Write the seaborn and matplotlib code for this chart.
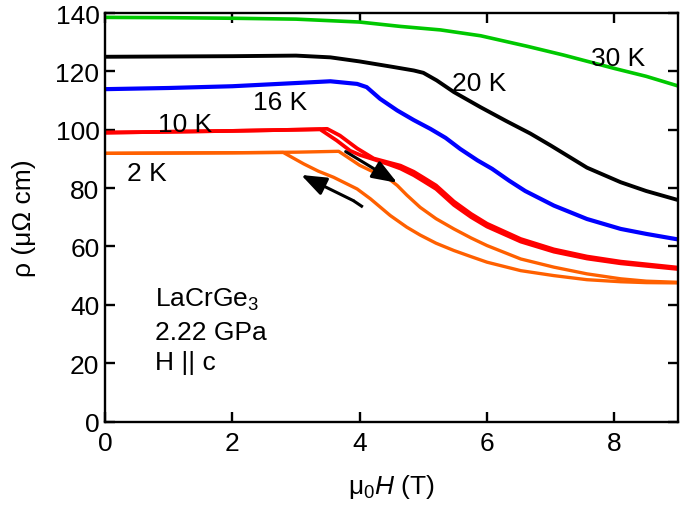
import matplotlib
matplotlib.use("Agg")
import matplotlib.pyplot as plt
import seaborn as sns
import pandas as pd

# ---------------- data ----------------
green_x = [0, 1, 2, 3, 4, 4.64, 5.27, 5.9, 6.63, 7.2, 8.0, 8.5, 9.0]
green_y = [138.5, 138.4, 138.2, 137.9, 136.9, 135.4, 134.2, 132.2, 128.6, 125.6, 121.0, 118.3, 115.0]

black_x = [0, 1, 2, 3, 3.54, 4.0, 4.5, 4.85, 5.0, 5.21, 5.48, 5.9, 6.3, 6.68, 7.0, 7.57, 8.1, 8.5, 9.0]
black_y = [125.0, 125.1, 125.2, 125.4, 124.8, 123.4, 121.6, 120.3, 119.5, 116.9, 112.9, 107.7, 103.0, 98.7, 94.6, 87.0, 82.0, 79.0, 75.9]

blue_x = [0, 1, 2, 3, 3.54, 3.96, 4.11, 4.32, 4.59, 4.85, 5.11, 5.35, 5.58, 5.85, 6.08, 6.35, 6.6, 7.05, 7.57, 8.1, 8.5, 9.0]
blue_y = [113.9, 114.3, 114.9, 116.0, 116.6, 115.7, 114.6, 110.6, 106.6, 103.3, 100.3, 97.2, 93.4, 89.5, 86.6, 82.5, 79.0, 74.0, 69.4, 66.0, 64.3, 62.4]

red_up_x = [0, 1, 2, 3, 3.49, 3.69, 3.96, 4.22, 4.45, 4.64, 4.85, 5.0, 5.2, 5.48, 5.75, 6.0, 6.53, 7.05, 7.57, 8.1, 9.0]
red_up_y = [99.0, 99.3, 99.6, 100.0, 100.3, 98.0, 93.6, 90.15, 88.8, 87.7, 85.6, 83.6, 80.9, 75.4, 71.15, 67.8, 62.55, 59.0, 56.55, 54.8, 52.75]
red_dn_x = [0, 1, 2, 3, 3.38, 3.64, 3.85, 4.01, 4.22, 4.45, 4.64, 4.85, 5.0, 5.2, 5.48, 5.75, 6.0, 6.53, 7.05, 7.57, 8.1, 9.0]
red_dn_y = [99.0, 99.3, 99.6, 100.0, 100.1, 96.3, 92.8, 91.3, 89.85, 88.2, 86.7, 84.4, 82.4, 79.7, 74.2, 70.05, 66.8, 61.65, 58.2, 55.85, 54.2, 52.25]

orange_up_x = [0, 1, 2, 3, 3.67, 3.85, 4.0, 4.17, 4.35, 4.48, 4.59, 4.74, 4.95, 5.2, 5.48, 5.75, 6.0, 6.53, 7.05, 7.57, 8.1, 8.5, 9.0]
orange_up_y = [91.9, 92.0, 92.1, 92.3, 92.6, 90.0, 87.8, 86.0, 84.3, 82.8, 80.9, 77.6, 73.4, 69.5, 66.0, 62.9, 60.3, 55.7, 52.9, 50.6, 48.9, 48.1, 47.7]
orange_dn_x = [0, 1, 2, 2.8, 3.12, 3.35, 3.59, 3.96, 4.17, 4.48, 4.74, 4.95, 5.2, 5.48, 5.75, 6.0, 6.53, 7.05, 7.57, 8.1, 8.5, 9.0]
orange_dn_y = [91.9, 92.0, 92.1, 92.2, 88.3, 85.8, 83.7, 79.7, 76.3, 70.6, 66.6, 63.9, 61.1, 58.6, 56.5, 54.6, 51.7, 50.0, 48.6, 47.9, 47.6, 47.5]

curve_labels = ["2 K", "10 K", "16 K", "20 K", "30 K"]
label_x = [0.34, 0.84, 2.33, 5.45, 7.64]
label_y = [82.8, 99.7, 107.1, 113.6, 122.3]

info_lines = ["LaCrGe$_\\mathregular{3}$", "2.22 GPa", "H || c"]
info_x = 0.79
info_y = [39.7, 28.3, 18.0]

# sweep arrows: (tail, tip)
arrow_up_tail = (3.78, 92.5)
arrow_up_tip = (4.59, 81.8)
arrow_dn_hook = (4.05, 73.5)
arrow_dn_tail = (3.90, 75.7)
arrow_dn_tip = (3.08, 84.5)

x_ticks = [0, 2, 4, 6, 8]
y_ticks = [0, 20, 40, 60, 80, 100, 120, 140]

# ---------------- style ----------------
sns.set_theme(style="ticks")
plt.rcParams["font.family"] = ["Liberation Sans", "DejaVu Sans"]
plt.rcParams["mathtext.fontset"] = "custom"
plt.rcParams["mathtext.rm"] = "Liberation Sans"
plt.rcParams["mathtext.it"] = "Liberation Sans:italic"
for k in ["text.color", "axes.labelcolor", "xtick.color", "ytick.color", "axes.edgecolor"]:
    plt.rcParams[k] = "black"
FS = 19

fig = plt.figure(figsize=(6.94, 5.06), dpi=100)
ax = fig.add_axes([105 / 694, 1 - 422.5 / 506, (678 - 105) / 694, (422.5 - 14) / 506])

series = [
    (green_x, green_y, "#00c800", 2.6),
    (black_x, black_y, "black", 2.8),
    (blue_x, blue_y, "#0000ff", 3.0),
    (red_up_x, red_up_y, "#ff0000", 2.7),
    (red_dn_x, red_dn_y, "#ff0000", 2.7),
    (orange_up_x, orange_up_y, "#ff6000", 2.4),
    (orange_dn_x, orange_dn_y, "#ff6000", 2.4),
]
for xs, ys, c, lw in series:
    df = pd.DataFrame({"H": xs, "rho": ys})
    sns.lineplot(data=df, x="H", y="rho", color=c, linewidth=lw, sort=False,
                 ax=ax, legend=False)

ax.set_xlim(0, 9)
ax.set_ylim(0, 140)
ax.set_xticks(x_ticks)
ax.set_yticks(y_ticks)

for s in ax.spines.values():
    s.set_visible(True)
    s.set_linewidth(1.7)
    s.set_color("black")
ax.tick_params(direction="in", length=7.2, width=1.7, top=True, right=True,
               labelsize=FS, colors="black")
ax.tick_params(axis="x", pad=7)
ax.tick_params(axis="y", pad=4)

ax.set_xlabel("μ$_\\mathregular{0}$$\\mathit{H}$ (T)", fontsize=FS, labelpad=12, color="black")
ax.set_ylabel("ρ (μΩ cm)", fontsize=FS, labelpad=14, color="black")

for t, x, y in zip(curve_labels, label_x, label_y):
    ax.text(x, y, t, fontsize=FS, ha="left", va="baseline", color="black")
for t, y in zip(info_lines, info_y):
    ax.text(info_x, y, t, fontsize=FS, ha="left", va="baseline", color="black")

aprops = dict(arrowstyle="-|>,head_length=0.8,head_width=0.3", color="black",
              lw=2.2, mutation_scale=19, shrinkA=0, shrinkB=0)
ax.annotate("", xy=arrow_up_tip, xytext=arrow_up_tail, arrowprops=aprops)
ax.annotate("", xy=arrow_dn_tip, xytext=arrow_dn_tail, arrowprops=aprops)
ax.plot([arrow_dn_hook[0], arrow_dn_tail[0]], [arrow_dn_hook[1], arrow_dn_tail[1]],
        color="black", lw=2.2, solid_capstyle="butt")

fig.savefig("out.png", dpi=100)
